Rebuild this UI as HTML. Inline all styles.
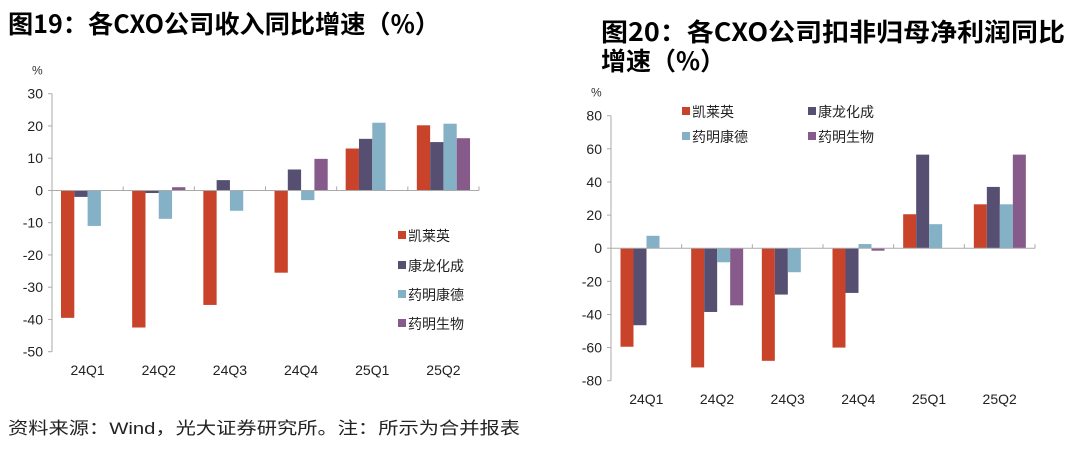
<!DOCTYPE html>
<html><head><meta charset="utf-8"><style>
body{margin:0;background:#fff;}
svg text{font-family:"Liberation Sans","Noto Sans CJK SC",sans-serif;}
.t{font-family:"Noto Sans CJK SC","Liberation Sans",sans-serif !important;font-weight:bold;}
</style></head><body>
<svg id="s" width="1080" height="447" xmlns="http://www.w3.org/2000/svg">
<text class="t" x="8" y="33" font-size="25" textLength="432" lengthAdjust="spacingAndGlyphs">图19：各CXO公司收入同比增速（%）</text>
<text class="t" x="601" y="41" font-size="25" textLength="464" lengthAdjust="spacingAndGlyphs">图20：各CXO公司扣非归母净利润同比</text>
<text class="t" x="601" y="70" font-size="25">增速（%）</text>
<text x="8" y="434" font-size="17" fill="#222" font-family="Noto Sans CJK SC" textLength="512" lengthAdjust="spacingAndGlyphs">资料来源：Wind，光大证券研究所。注：所示为合并报表</text>
<g id="c1"></g><g id="c2"></g>
</svg>
<script>
const categories=["24Q1","24Q2","24Q3","24Q4","25Q1","25Q2"];
const seriesNames=["凯莱英","康龙化成","药明康德","药明生物"];
const colors=["#c8432a","#574f72","#84b1c6","#865a8b"];
const rev_kly=[-39.5,-42.5,-35.5,-25.5,13,20.2];
const rev_klhc=[-2,-0.8,3.2,6.5,16,15];
const rev_wxkd=[-11,-8.8,-6.3,-3,21,20.7];
const rev_wxsw=[0,1,0,9.8,0,16.2];
const np_kly=[-59.5,-72,-68,-60,20.5,26.5];
const np_klhc=[-46.5,-38.5,-28,-27,56.5,37];
const np_wxkd=[7.5,-8.5,-14.5,2.5,14.5,26.5];
const np_wxsw=[0,-34.5,0,-1.5,0,56.5];
const ticks1=[30,20,10,0,-10,-20,-30,-40,-50];
const ticks2=[80,60,40,20,0,-20,-40,-60,-80];
const NS="http://www.w3.org/2000/svg";
function mk(g,tag,a,txt){const e=document.createElementNS(NS,tag);for(const k in a)e.setAttribute(k,a[k]);if(txt!==undefined)e.textContent=txt;g.appendChild(e);return e;}
function chart(gid,cfg){
 const g=document.getElementById(gid);
 const y=v=>cfg.y0+(cfg.max-v)/(cfg.max-cfg.min)*(cfg.y1-cfg.y0);
 const cw=(cfg.xr-cfg.xl)/categories.length;
 let e=mk(g,'text',{x:cfg.xl-20,y:cfg.y0-19,'font-size':12,fill:'#333'},'%');
 
 
 e=mk(g,'line',{x1:cfg.xl,x2:cfg.xl,y1:cfg.y0,y2:cfg.y1,stroke:'#aaa'});
 
 
 cfg.ticks.forEach(t=>{
  mk(g,'line',{x1:cfg.xl-4,x2:cfg.xl,y1:y(t),y2:y(t),stroke:'#aaa'});
  const tx=mk(g,'text',{x:cfg.xl-9,y:y(t)+5,'font-size':14,'text-anchor':'end',fill:'#222'},String(t));
  
  
 });
 cfg.series.forEach((s,si)=>{
  s.forEach((v,ci)=>{
   if(v===0)return;
   const x=cfg.xl+ci*cw+cfg.off+si*cfg.bw;
   const r=mk(g,'rect',{x:x,y:Math.min(y(v),y(0)),width:cfg.bw,height:Math.abs(y(v)-y(0)),fill:colors[si]});
   
   
  });
 });
 e=mk(g,'line',{x1:cfg.xl,x2:cfg.xr,y1:y(0),y2:y(0),stroke:'#aaa'});
 
 
 categories.forEach((c,ci)=>{
  mk(g,'line',{x1:cfg.xl+(ci+1)*cw,x2:cfg.xl+(ci+1)*cw,y1:y(0),y2:y(0)-4,stroke:'#aaa'});
  const tx=mk(g,'text',{x:cfg.xl+(ci+0.5)*cw,y:cfg.xlab,'font-size':14,'text-anchor':'middle',fill:'#222'},c);
  
  
 });
 cfg.legend.forEach((p,i)=>{
  const r=mk(g,'rect',{x:p[0],y:p[1]-5,width:8,height:8,fill:colors[i]});
  
  
  const t=mk(g,'text',{x:p[0]+10,y:p[1]+5,'font-size':14,fill:'#222','font-family':'Noto Sans CJK SC'},seriesNames[i]);
  
  
 });
}
chart('c1',{xl:52,xr:479,y0:93.7,y1:351.7,max:30,min:-50,ticks:ticks1,off:9,bw:13.3,xlab:375,
 series:[rev_kly,rev_klhc,rev_wxkd,rev_wxsw],legend:[[398,236],[398,266],[398,295],[398,324]]});
chart('c2',{xl:611,xr:1035,y0:115.7,y1:380.7,max:80,min:-80,ticks:ticks2,off:9.5,bw:13,xlab:404,
 series:[np_kly,np_klhc,np_wxkd,np_wxsw],legend:[[682,112],[808,112],[682,137],[808,137]]});
</script>
</body></html>
